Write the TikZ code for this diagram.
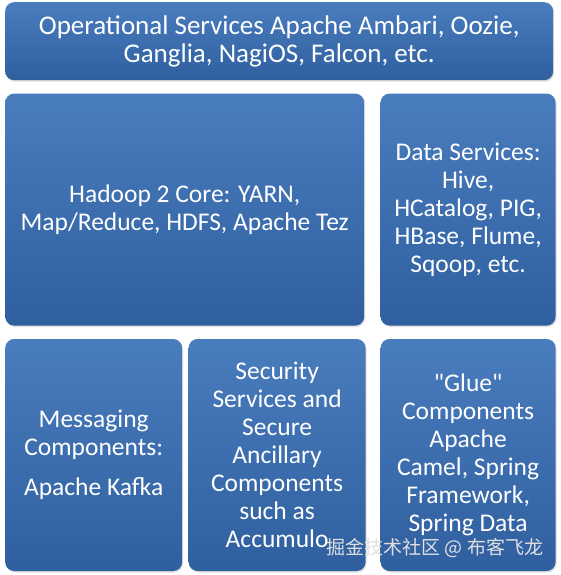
\documentclass[tikz,border=0pt]{standalone}
\usepackage{fontspec}
\setmainfont{Carlito}[Ligatures=TeXOff]
\newfontfamily\cjkfont{Noto Sans CJK SC}
\definecolor{BoxTop}{HTML}{4A7DBE}
\definecolor{BoxBot}{HTML}{2F5F9F}
\usetikzlibrary{positioning, shadows}

\begin{document}
\begin{tikzpicture}[
  block/.style={
    rounded corners=9pt, top color=BoxTop, bottom color=BoxBot,
    drop shadow={opacity=0.25, shadow xshift=1pt, shadow yshift=-1.5pt},
    text=white, align=center, inner sep=2pt,
    font=\fontsize{25.5}{28}\selectfont
  },
  tall/.style={block, minimum height=232pt},
  mark label/.style={font=\cjkfont\fontsize{19}{22}\selectfont, text=white!88!black}
]
  \useasboundingbox (0,0) rectangle (560pt,-575pt);

  \node[block, anchor=north west, minimum width=548pt, minimum height=78pt,
    font=\fontsize{27}{28}\selectfont]
    (ops) at (5pt,-2pt) {Operational Services Apache Ambari, Oozie,\\Ganglia, NagiOS, Falcon, etc.};

  % middle row
  \node[tall, minimum width=359pt, below right=13pt and 0pt of ops.south west] (core)
    {Hadoop 2 Core: YARN,\\Map/Reduce, HDFS, Apache Tez};
  \node[tall, minimum width=175pt, right=16pt of core] (data)
    {Data Services:\\Hive,\\HCatalog, PIG,\\HBase, Flume,\\Sqoop, etc.};

  % bottom row
  \node[tall, minimum width=177pt, below right=13pt and 0pt of core.south west] (msg)
    {Messaging\\Components:\\[12pt]Apache Kafka};
  \node[tall, minimum width=177pt, right=6pt of msg] (sec)
    {Security\\Services and\\Secure\\Ancillary\\Components\\such as\\Accumulo};
  \node[tall, minimum width=175pt, below right=13pt and 0pt of data.south west] (glue)
    {"Glue"\\Components\\Apache\\Camel, Spring\\Framework,\\Spring Data};

  \node[mark label] (wm) at (435pt,-548pt) {掘金技术社区 @ 布客飞龙};
\end{tikzpicture}
\end{document}
